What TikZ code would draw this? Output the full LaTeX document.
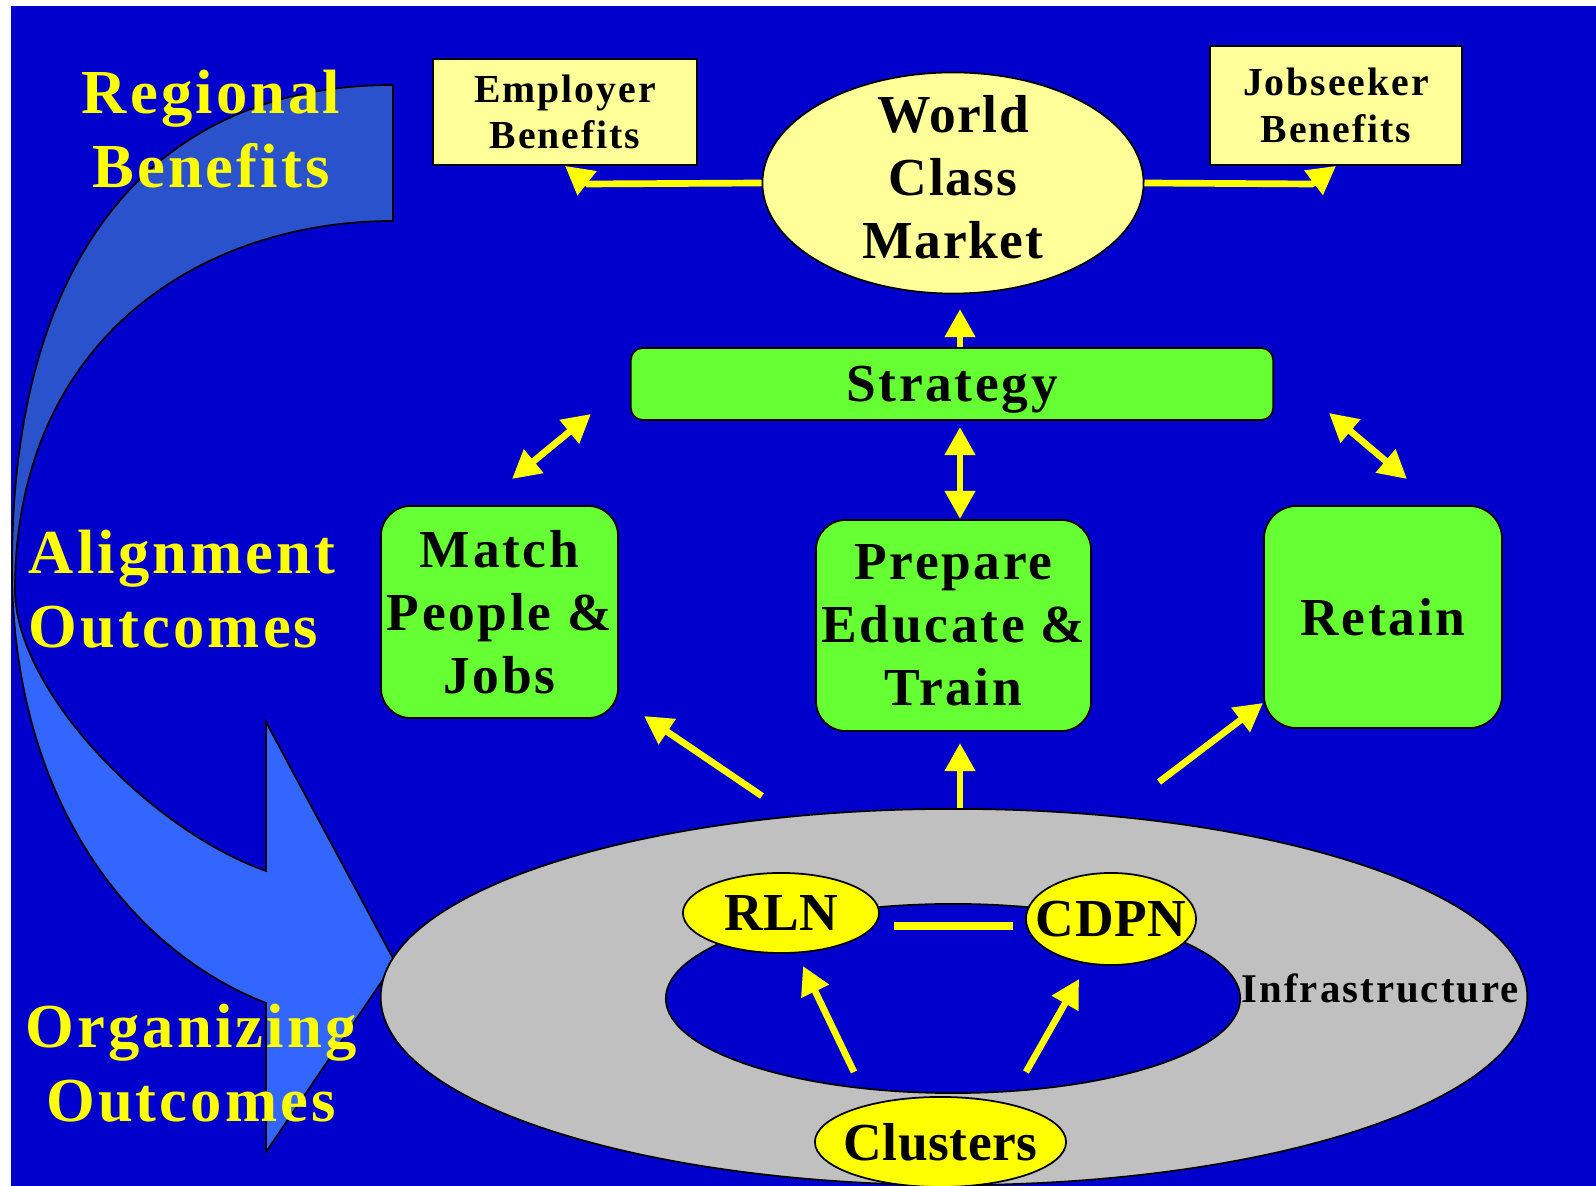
\documentclass[tikz,border=0pt]{standalone}
\usepackage{fontspec}
\setmainfont{Liberation Serif}[LetterSpace=5]
\usetikzlibrary{shapes.geometric, arrows.meta}
\definecolor{cBack}{RGB}{0,0,204}
\definecolor{cSweepDark}{RGB}{41,82,204}
\definecolor{cSweepLight}{RGB}{51,102,255}
\definecolor{cPale}{RGB}{255,255,153}
\definecolor{cLime}{RGB}{102,255,51}
\definecolor{cRing}{RGB}{192,192,192}
\definecolor{cYellow}{RGB}{255,255,0}
\tikzset{
	banner/.style ={text=cYellow, inner sep=0pt, font=\bfseries\fontsize{17.8}{21}\selectfont},
	benefit/.style={rectangle, draw=black, line width=0.5pt, fill=cPale, inner sep=0pt, align=center, font=\bfseries\fontsize{11.3}{13.3}\selectfont},
	stage/.style  ={rectangle, rounded corners=0.3cm, draw=black, line width=0.5pt, fill=cLime, inner sep=0pt, align=center, font=\bfseries\fontsize{15.2}{17.9}\selectfont},
	hub/.style    ={ellipse, draw=black, line width=0.5pt, fill=cYellow, inner ysep=0pt, inner xsep=-6pt, font=\bfseries\fontsize{15.2}{17.9}\selectfont\addfontfeature{LetterSpace=1}},
	flow/.style   ={->, line width=1.9pt, cYellow},
	twoway/.style ={<->, line width=1.9pt, cYellow},
}

\begin{document}
\begin{tikzpicture}[x=0.01cm, y=-0.01cm, >={Triangle[length=8pt, width=8.3pt]}]
	% slide background
	\fill[white] (0,0) rectangle (1596,1186);
	\fill[cBack] (11,6) rectangle (1596,1186);
	\useasboundingbox (0,0) rectangle (1596,1186);

	% big curved arrow on the left, darker back half
	\def\sweep{(393,85) -- (393,221) .. controls (200,221) and (15,340) .. (15,590)
		.. controls (15,690) and (150,830) .. (266,871) -- (266,722) -- (395,962)
		-- (266,1152) -- (266,1003) .. controls (130,950) and (12,800) .. (12,567)
		.. controls (12,260) and (150,85) .. cycle}
	\fill[cSweepLight] \sweep;
	\begin{scope}
		\clip (0,0) rectangle (420,580);
		\fill[cSweepDark] \sweep;
	\end{scope}
	\draw[line width=0.5pt] \sweep;

	\node[banner, align=center] (regional) at (211,129) {Regional\\Benefits};
	\node[banner, align=left, anchor=west] (alignment) at (28,589) {Alignment\\Outcomes};
	\node[banner, align=center] (organizing) at (191,1063) {Organizing\\Outcomes};

	% market and its benefits
	\node[benefit, minimum width=2.64cm, minimum height=1.06cm] (employer) at (565,112) {Employer\\Benefits};
	\node[benefit, minimum width=2.52cm, minimum height=1.19cm] (jobseeker) at (1336,105.5) {Jobseeker\\Benefits};
	\node[ellipse, draw=black, line width=0.5pt, fill=cPale, minimum width=3.81cm, minimum height=2.21cm] (market) at (953,183) {};
	\node[align=center, font=\bfseries\fontsize{15.2}{17.9}\selectfont\addfontfeature{LetterSpace=3}] (marketText) at (953,177) {World\\Class\\Market};

	\coordinate (empKnee) at (588,184);
	\coordinate (jobKnee) at (1312,184);
	\draw[flow] (market.west) -- (empKnee) -- (employer.south);
	\draw[flow] (market.east) -- (jobKnee) -- (jobseeker.south);

	% strategy and the three outcomes
	\node[stage, rounded corners=0.12cm, text depth=0pt, minimum width=6.42cm, minimum height=0.72cm] (strategy) at (952,384) {Strategy};
	\node[stage, minimum width=2.37cm, minimum height=2.12cm] (match) at (499.5,612) {Match\\People \&\\Jobs};
	\node[stage, minimum width=2.75cm, minimum height=2.11cm] (prepare) at (953.5,625.5) {Prepare\\Educate \&\\Train};
	\node[stage, rounded corners=0.33cm, minimum width=2.38cm, minimum height=2.22cm] (retain) at (1383,617) {Retain};

	\coordinate (marketTip) at (960,309);
	\coordinate (stratLow) at (960,427);
	\coordinate (prepTop) at (960,519);
	\coordinate (matchUp) at (591,414);
	\coordinate (matchLow) at (512,479);
	\coordinate (retUp) at (1329,413);
	\coordinate (retLow) at (1407,479);
	\draw[flow] (strategy.north -| marketTip) -- (marketTip);
	\draw[twoway] (stratLow) -- (prepTop);
	\draw[twoway] (matchLow) -- (matchUp);
	\draw[twoway] (retUp) -- (retLow);

	% infrastructure ring
	\node[ellipse, draw=black, line width=0.5pt, fill=cRing, minimum width=11.46cm, minimum height=3.76cm] (infra) at (954,997) {};
	\node[ellipse, draw=black, line width=0.5pt, fill=cBack, minimum width=5.74cm, minimum height=1.89cm] (core) at (953,998.5) {};
	\node[anchor=base west, inner sep=0pt, font=\bfseries\fontsize{11.6}{13}\selectfont] (infraText) at (1241,1003) {Infrastructure};

	\node[hub, minimum width=1.96cm, minimum height=0.80cm] (rln) at (781,913) {RLN};
	\node[hub, minimum width=1.70cm, minimum height=0.92cm] (cdpn) at (1111,919) {CDPN};
	\node[hub, minimum width=2.51cm, minimum height=0.90cm] (clusters) at (940.5,1142) {Clusters};

	\coordinate (toMatch) at (644,716);
	\coordinate (fromLeft) at (762,796);
	\coordinate (toPrep) at (960,743);
	\coordinate (toRetain) at (1263,703);
	\coordinate (fromRight) at (1159,782);
	\draw[flow] (fromLeft) -- (toMatch);
	\draw[flow] (infra.north -| toPrep) -- (toPrep);
	\draw[flow] (fromRight) -- (toRetain);

	\coordinate (rlnTail) at (854,1072);
	\coordinate (rlnTip) at (803,966);
	\coordinate (cdpnTail) at (1026,1072);
	\coordinate (cdpnTip) at (1079,979);
	\coordinate (linkL) at (894,926);
	\coordinate (linkR) at (1013,926);
	\draw[flow] (rlnTail) -- (rlnTip);
	\draw[flow] (cdpnTail) -- (cdpnTip);
	\draw[line width=2pt, cYellow] (linkL) -- (linkR);
\end{tikzpicture}
\end{document}
